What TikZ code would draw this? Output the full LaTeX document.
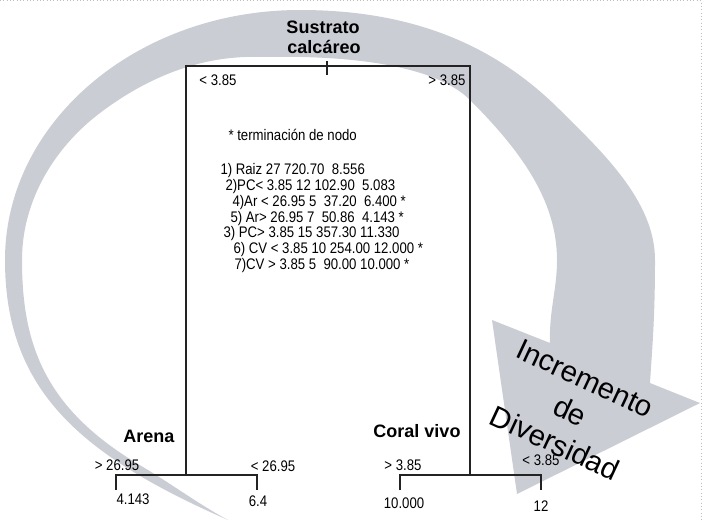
\documentclass[tikz,border=0pt]{standalone}
\usepackage{fontspec}
\setmainfont{Liberation Sans}
\newfontfamily\narrowfont[FakeStretch=0.86]{Liberation Sans}
\definecolor{bandgray}{RGB}{203,205,213}

\tikzset{every picture/.style={line width=0.75pt}}
\tikzset{
  treeline/.style={line width=0.9pt, color={rgb, 255:red, 35; green, 35; blue, 35 }},
  cutlabel/.style={font=\narrowfont\fontsize{11.5}{13}\selectfont, inner sep=0pt},
  rowlabel/.style={cutlabel, anchor=base west},
  grouplabel/.style={font=\bfseries\fontsize{13.5}{16}\selectfont, inner sep=0pt}
}

\begin{document}
\begin{tikzpicture}[x=0.75pt,y=0.75pt,yscale=-1,xscale=1]
	\useasboundingbox (0,0) rectangle (702,521);

	%Shape: Frame (dotted, top and right)
	\draw [color={rgb, 255:red, 190; green, 190; blue, 190 }, dotted, line width=0.5]  (0,0.6) -- (701.2,0.6) -- (701.2,521) ;

	%Shape: Curved arrow band
	\fill [bandgray]  (228,520) .. controls (80,455) and (5,390) .. (5,260)
		.. controls (5,122) and (137,10) .. (300,10)
		.. controls (420,10) and (500,50) .. (560,110)
		.. controls (600,150) and (655,200) .. (655,260)
		.. controls (655,320) and (652,350) .. (650,383)
		-- (700,403) -- (517,494) -- (492,320) -- (550,343)
		.. controls (549,310) and (557,290) .. (557,260)
		.. controls (557,200) and (520,150) .. (470,100)
		.. controls (435,65) and (350,55) .. (260,57)
		.. controls (205,55) and (150,75) .. (100,113)
		.. controls (55,147) and (22,200) .. (22,260)
		.. controls (22,345) and (45,410) .. (143,467)
		.. controls (170,483) and (200,505) .. (228,520) -- cycle ;

	%Coordinates of the tree
	\coordinate (pcL) at (186,66) ;
	\coordinate (pcR) at (470,66) ;
	\coordinate (arN) at (186,475) ;
	\coordinate (cvN) at (470,475) ;
	\coordinate (arL) at (116,475) ;
	\coordinate (arR) at (257,475) ;
	\coordinate (cvL) at (400,475) ;
	\coordinate (cvR) at (541,475) ;
	\coordinate (arLb) at (116,490) ;
	\coordinate (arRb) at (257,490) ;
	\coordinate (cvLb) at (400,490) ;
	\coordinate (cvRb) at (541,490) ;
	\coordinate (tickT) at (327,61) ;
	\coordinate (tickB) at (327,75) ;

	%Straight Lines: root split
	\draw [treeline]  (arN) -- (pcL) -- (pcR) -- (cvN) ;
	\draw [treeline]  (tickT) -- (tickB) ;
	%Straight Lines: Arena split
	\draw [treeline]  (arLb) -- (arL) -- (arR) -- (arRb) ;
	%Straight Lines: Coral vivo split
	\draw [treeline]  (cvLb) -- (cvL) -- (cvR) -- (cvRb) ;

	% Text Node
	\node [grouplabel, anchor=base] (sus1) at (323,33) {Sustrato};
	% Text Node
	\node [grouplabel, anchor=base] (sus2) at (324,53) {calcáreo};
	% Text Node
	\node [cutlabel] (pcLt) at (218,80) {< 3.85};
	% Text Node
	\node [cutlabel] (pcRt) at (447,80) {> 3.85};

	% Text Node
	\node [rowlabel] (t0) at (228,140) {* terminación de nodo};
	% Text Node
	\node [rowlabel] (t1) at (220,174) {1) Raiz 27 720.70~ 8.556};
	% Text Node
	\node [rowlabel] (t2) at (225,190) {2)PC< 3.85 12 102.90~ 5.083};
	% Text Node
	\node [rowlabel] (t3) at (232,206) {4)Ar < 26.95 5~ 37.20~ 6.400 *};
	% Text Node
	\node [rowlabel] (t4) at (230,222) {5) Ar> 26.95 7~ 50.86~ 4.143 *};
	% Text Node
	\node [rowlabel] (t5) at (223,237) {3) PC> 3.85 15 357.30 11.330};
	% Text Node
	\node [rowlabel] (t6) at (233,253) {6) CV < 3.85 10 254.00 12.000 *};
	% Text Node
	\node [rowlabel] (t7) at (234,269) {7)CV > 3.85 5~ 90.00 10.000 *};

	% Text Node
	\node [grouplabel, anchor=base] (arena) at (149,442) {Arena};
	% Text Node
	\node [grouplabel, anchor=base] (coral) at (417,437) {Coral vivo};
	% Text Node
	\node [cutlabel] (arLt) at (117,465) {> 26.95};
	% Text Node
	\node [cutlabel] (arRt) at (273,466) {< 26.95};
	% Text Node
	\node [cutlabel] (cvLt) at (403,465) {> 3.85};
	% Text Node
	\node [cutlabel] (cvRt) at (541,460) {< 3.85};
	% Text Node
	\node [cutlabel] (leaf5) at (133,499) {4.143};
	% Text Node
	\node [cutlabel] (leaf4) at (258,501) {6.4};
	% Text Node
	\node [cutlabel] (leaf7) at (404,503) {10.000};
	% Text Node
	\node [cutlabel] (leaf6) at (541,506) {12};

	% Text Node
	\node [font=\fontsize{22}{26.8}\selectfont, align=center, rotate=-25, inner sep=0pt] (incr) at (570,411) {Incremento\\de\\Diversidad};

\end{tikzpicture}
\end{document}
